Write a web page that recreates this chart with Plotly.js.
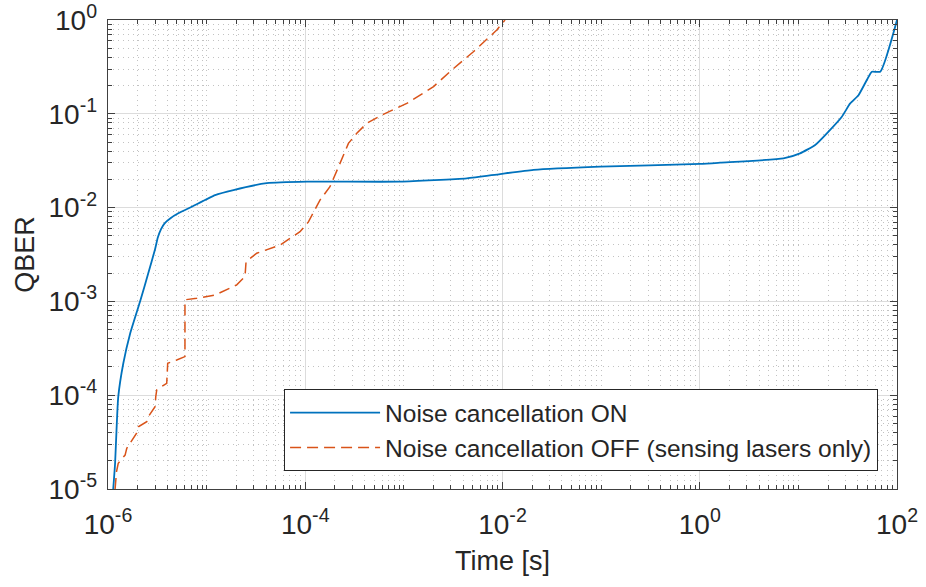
<!DOCTYPE html>
<html>
<head>
<meta charset="utf-8">
<script src="https://cdn.plot.ly/plotly-3.0.1.min.js"></script>
<style>html,body{margin:0;padding:0;background:#fff;}#chart{width:926px;height:587px;}</style>
</head>
<body>
<div id="chart"></div>
<script>
// Noise cancellation ON (solid blue)
const onTime = [1.13e-6, 1.18e-6, 1.22e-6, 1.27e-6, 1.43e-6, 1.67e-6, 2.11e-6, 2.56e-6, 3.0e-6, 3.2e-6,
  3.45e-6, 3.75e-6, 4.3e-6, 5.16e-6, 7.06e-6, 1.22e-5, 1.87e-5, 4.07e-5, 1.04e-4, 9.1e-4,
  4.35e-3, 9.46e-3, 2.06e-2, 9.8e-2, 1.01, 1.61, 7.06, 10.4, 14.8, 20.2,
  27.6, 33.5, 40.7, 49.4, 55.6, 67.6, 100];
const onQber = [1.0e-5, 1.88e-5, 4.26e-5, 9.6e-5, 2.19e-4, 4.47e-4, 9.9e-4, 1.99e-3, 3.6e-3, 4.8e-3,
  5.9e-3, 6.8e-3, 7.7e-3, 8.69e-3, 1.02e-2, 1.36e-2, 1.54e-2, 1.82e-2, 1.89e-2, 1.89e-2,
  2.05e-2, 2.28e-2, 2.52e-2, 2.73e-2, 2.92e-2, 3.01e-2, 3.35e-2, 3.79e-2, 4.65e-2, 6.46e-2,
  9.31e-2, 0.129, 0.158, 0.229, 0.281, 0.281, 1.0];

// Noise cancellation OFF, sensing lasers only (dashed orange)
const offTime = [1.18e-6, 1.22e-6, 1.27e-6, 1.49e-6, 1.55e-6, 1.81e-6, 1.95e-6, 2.03e-6, 2.47e-6, 2.56e-6,
  3.0e-6, 3.05e-6, 3.12e-6, 3.94e-6, 4.03e-6, 4.97e-6, 6.03e-6, 6.03e-6, 7.94e-6, 1.22e-5,
  2.02e-5, 2.45e-5, 2.51e-5, 3.22e-5, 5.55e-5, 8.85e-5, 1.08e-4, 1.41e-4, 1.78e-4, 2.25e-4,
  2.74e-4, 3.33e-4, 4.21e-4, 6.19e-4, 1.07e-3, 2.0e-3, 3.06e-3, 5.07e-3, 8.75e-3, 1.06e-2];
const offQber = [1.0e-5, 1.53e-5, 1.88e-5, 2.3e-5, 2.72e-5, 3.47e-5, 3.93e-5, 4.61e-5, 5.22e-5, 5.9e-5,
  7.53e-5, 9.64e-5, 1.14e-4, 1.34e-4, 2.19e-4, 2.37e-4, 2.58e-4, 1.04e-3, 1.08e-3, 1.17e-3,
  1.5e-3, 1.84e-3, 2.65e-3, 3.26e-3, 3.99e-3, 5.53e-3, 7.08e-3, 1.2e-2, 1.67e-2, 2.96e-2,
  4.84e-2, 6.19e-2, 7.93e-2, 9.86e-2, 0.129, 0.195, 0.293, 0.459, 0.782, 1.0];

const seriesNames = ['Noise cancellation ON', 'Noise cancellation OFF (sensing lasers only)'];

const xTickVals = [1e-6, 1e-4, 1e-2, 1, 100];
const xTickText = ['10<sup>-6</sup>', '10<sup>-4</sup>', '10<sup>-2</sup>', '10<sup>0</sup>', '10<sup>2</sup>'];
const yTickVals = [1e-5, 1e-4, 1e-3, 1e-2, 1e-1, 1];
const yTickText = ['10<sup>-5</sup>', '10<sup>-4</sup>', '10<sup>-3</sup>', '10<sup>-2</sup>', '10<sup>-1</sup>', '10<sup>0</sup>'];

const FONT = 'Liberation Sans, Arial, sans-serif';
const axisColor = '#404040';

const traces = [
  {x: onTime, y: onQber, type: 'scatter', mode: 'lines', name: seriesNames[0],
   legendgroup: 'a', line: {color: '#0072BD', width: 1.8, shape: 'spline', smoothing: 0.5}},
  {x: offTime, y: offQber, type: 'scatter', mode: 'lines', name: seriesNames[1],
   legendgroup: 'b', line: {color: '#D95319', width: 1.5, dash: '11px,6px'}}
];

const commonAxis = {
  type: 'log',
  showline: true, mirror: 'ticks', linecolor: axisColor, linewidth: 1.3,
  ticks: 'inside', ticklen: 7, tickcolor: axisColor, tickwidth: 1,
  showgrid: true, gridcolor: '#dcdcdc', gridwidth: 1,
  zeroline: false,
  tickmode: 'array',
  tickfont: {family: FONT, size: 28, color: '#262626'},
  minor: {ticks: 'inside', ticklen: 4, tickcolor: axisColor, dtick: 'D1',
          showgrid: true, gridcolor: '#c2c2c2', griddash: '1px,4px', gridwidth: 1}
};

const layout = {
  width: 926, height: 587,
  margin: {l: 108, r: 29, t: 20, b: 98},
  paper_bgcolor: '#ffffff', plot_bgcolor: '#ffffff',
  font: {family: FONT, color: '#262626'},
  showlegend: true,
  xaxis: Object.assign({}, commonAxis, {
    range: [-6, 2], tickvals: xTickVals, ticktext: xTickText, ticklabelstandoff: 10,
    title: {text: 'Time [s]', font: {family: FONT, size: 27, color: '#262626'}, standoff: 12}
  }),
  yaxis: Object.assign({}, commonAxis, {
    range: [-5, 0], tickvals: yTickVals, ticktext: yTickText, ticklabelstandoff: 4,
    title: {text: 'QBER', font: {family: FONT, size: 27, color: '#262626'}, standoff: 6}
  }),
  legend: {
    x: 0.976, xanchor: 'right', y: 0.038, yanchor: 'bottom',
    bgcolor: '#ffffff', bordercolor: '#262626', borderwidth: 1,
    font: {family: FONT, size: 24.5, color: '#262626'},
    tracegroupgap: 0, itemwidth: 90
  }
};

Plotly.newPlot('chart', traces, layout, {staticPlot: true, displayModeBar: false});
</script>
</body>
</html>
